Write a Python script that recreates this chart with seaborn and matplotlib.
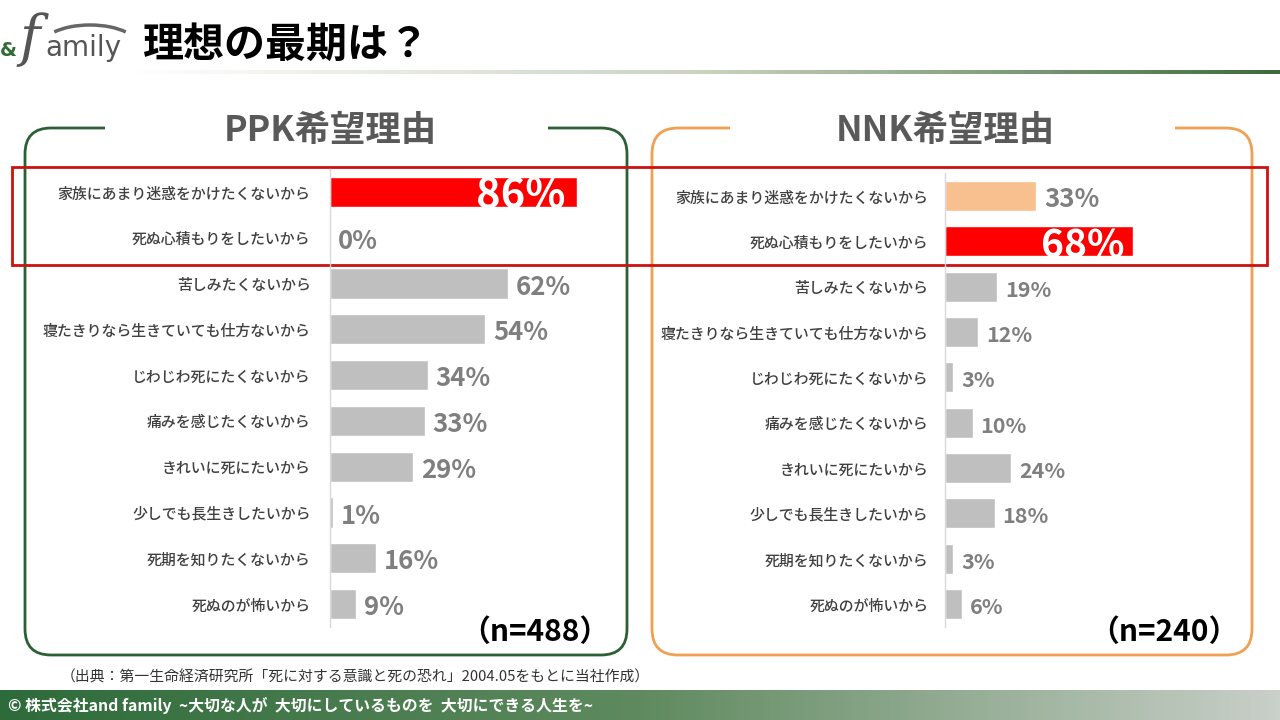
import numpy as np
import pandas as pd
import matplotlib
matplotlib.use("Agg")
import matplotlib.pyplot as plt
from matplotlib.patches import FancyBboxPatch, Rectangle, Arc
from matplotlib.colors import LinearSegmentedColormap
import seaborn as sns

sns.set_theme(style="white")
plt.rcParams['font.family'] = ['Noto Sans CJK JP', 'DejaVu Sans']

# ---------------- data ----------------
categories = [
    "家族にあまり迷惑をかけたくないから",
    "死ぬ心積もりをしたいから",
    "苦しみたくないから",
    "寝たきりなら生きていても仕方ないから",
    "じわじわ死にたくないから",
    "痛みを感じたくないから",
    "きれいに死にたいから",
    "少しでも長生きしたいから",
    "死期を知りたくないから",
    "死ぬのが怖いから",
]
ppk_values = [86, 0, 62, 54, 34, 33, 29, 1, 16, 9]
nnk_values = [33, 68, 19, 12, 3, 10, 24, 18, 3, 6]
ppk_colors = ["#ff0000"] + ["#bfbfbf"] * 9
nnk_colors = ["#f8c08e", "#ff0000"] + ["#bfbfbf"] * 8
ppk_title = "PPK希望理由"
nnk_title = "NNK希望理由"
ppk_n = "（n=488）"
nnk_n = "（n=240）"
title = "理想の最期は？"
source = "（出典：第一生命経済研究所「死に対する意識と死の恐れ」2004.05をもとに当社作成）"
footer = "© 株式会社and family  ~大切な人が  大切にしているものを  大切にできる人生を~"

W, H = 1280, 720
fig = plt.figure(figsize=(12.8, 7.2), dpi=100)

# background axes in pixel coordinates
bg = fig.add_axes([0, 0, 1, 1])
bg.set_xlim(0, W)
bg.set_ylim(H, 0)
bg.axis("off")

grad = np.linspace(0, 1, 256).reshape(1, -1)
hcmap = LinearSegmentedColormap.from_list("h", ["#ffffff", "#c9d3c0", "#3d6b3a"])
bg.imshow(grad, cmap=hcmap, extent=[130, W, 74, 70], aspect="auto", zorder=1)

# logo
bg.text(0, 50, "&", color="#2e6b35", fontsize=14, fontweight="bold",
        family="DejaVu Sans", va="center", ha="left")
bg.text(19, 40, "f", color="#555555", fontsize=40, style="italic",
        family="DejaVu Serif", va="center", ha="left")
bg.text(45, 48, "amily", color="#555555", fontsize=20,
        family="DejaVu Sans", va="center", ha="left")
bg.add_patch(Arc((90, 45), 94, 40, theta1=200, theta2=340, color="#666666", lw=2.5))
bg.text(143, 45, title, color="black", fontsize=29.5, fontweight="bold",
        va="center", ha="left")

# panels
def panel(x0, x1, color, gap0, gap1):
    bg.add_patch(FancyBboxPatch((x0, 128), x1 - x0, 655 - 128,
                                boxstyle="round,pad=0,rounding_size=26",
                                fc="white", ec=color, lw=2, zorder=2))
    bg.add_patch(Rectangle((gap0, 120), gap1 - gap0, 16, fc="white", ec="none", zorder=3))

panel(25, 627, "#2d5f35", 105, 548)
panel(652, 1252, "#f0a050", 730, 1175)
bg.text(330, 131, ppk_title, color="#595959", fontsize=25.5, fontweight="bold",
        ha="center", va="center", zorder=4)
bg.text(945, 131, nnk_title, color="#595959", fontsize=25.5, fontweight="bold",
        ha="center", va="center", zorder=4)

# red highlight rectangle
bg.add_patch(Rectangle((12, 167), 1255, 98, fc="none", ec="#cc1111", lw=2, zorder=5))

# n labels
bg.text(610, 632, ppk_n, color="black", fontsize=21.5, fontweight="bold",
        ha="right", va="center", zorder=4)
bg.text(1239, 632, nnk_n, color="black", fontsize=21.5, fontweight="bold",
        ha="right", va="center", zorder=4)

# source
bg.text(355, 677, source, color="#333333", fontsize=10.7, ha="center", va="center")

# footer gradient band
fcmap = LinearSegmentedColormap.from_list("f", ["#2e6b3a", "#5f8a5f", "#c9cfc9"])
bg.imshow(grad, cmap=fcmap, extent=[0, W, 720, 690], aspect="auto", zorder=1)
bg.text(8, 705, footer, color="white", fontsize=11.4, fontweight="bold",
        ha="left", va="center", zorder=2)
bg.set_xlim(0, W)
bg.set_ylim(H, 0)


def bar_panel(zero_x, top_y, bottom_y, width_px, px_per, values, colors,
              big_idx, white_idx, small_size, big_size, white_size, white_off, pad):
    rows = len(categories)
    step = (bottom_y - top_y) / (rows - 1)
    ax_top = top_y - step / 2
    ax_bot = bottom_y + step / 2
    ax = fig.add_axes([zero_x / W, 1 - ax_bot / H, width_px / W, (ax_bot - ax_top) / H])
    ax.patch.set_alpha(0)
    df = pd.DataFrame({"cat": categories, "val": values})
    sns.barplot(data=df, x="val", y="cat", hue="cat", palette=dict(zip(categories, colors)),
                legend=False, ax=ax, width=0.66, saturation=1, order=categories,
                hue_order=categories)
    ax.set_xlim(0, width_px / px_per)
    ax.set_ylim(rows - 0.5, -0.5)
    ax.set_xlabel("")
    ax.set_ylabel("")
    ax.set_xticks([])
    for s in ["top", "right", "bottom"]:
        ax.spines[s].set_visible(False)
    ax.spines["left"].set_color("#d9d9d9")
    ax.spines["left"].set_linewidth(1)
    ax.tick_params(axis="y", length=0, pad=pad, labelsize=10.75, labelcolor="#404040")
    for lab in ax.get_yticklabels():
        lab.set_fontweight("medium")
    off = 8 / px_per
    for i, v in enumerate(values):
        if i in white_idx:
            ax.text(v - white_off / px_per, i + 0.1, f"{v}%", color="white", fontsize=white_size,
                    fontweight="bold", ha="right", va="center")
        else:
            fs = big_size if i in big_idx else small_size
            ax.text(v + off, i + 0.08, f"{v}%", color="#7f7f7f", fontsize=fs,
                    fontweight="bold", ha="left", va="center")
    return ax

bar_panel(330, 192, 604, 290, 2.87, ppk_values, ppk_colors,
          big_idx=set(range(10)), white_idx={0}, small_size=18.5, big_size=18.5,
          white_size=30, white_off=11, pad=14)
bar_panel(945, 196, 604, 290, 2.76, nnk_values, nnk_colors,
          big_idx={0}, white_idx={1}, small_size=15.5, big_size=18.5,
          white_size=28, white_off=8, pad=12)

fig.savefig("out.png", dpi=100)
